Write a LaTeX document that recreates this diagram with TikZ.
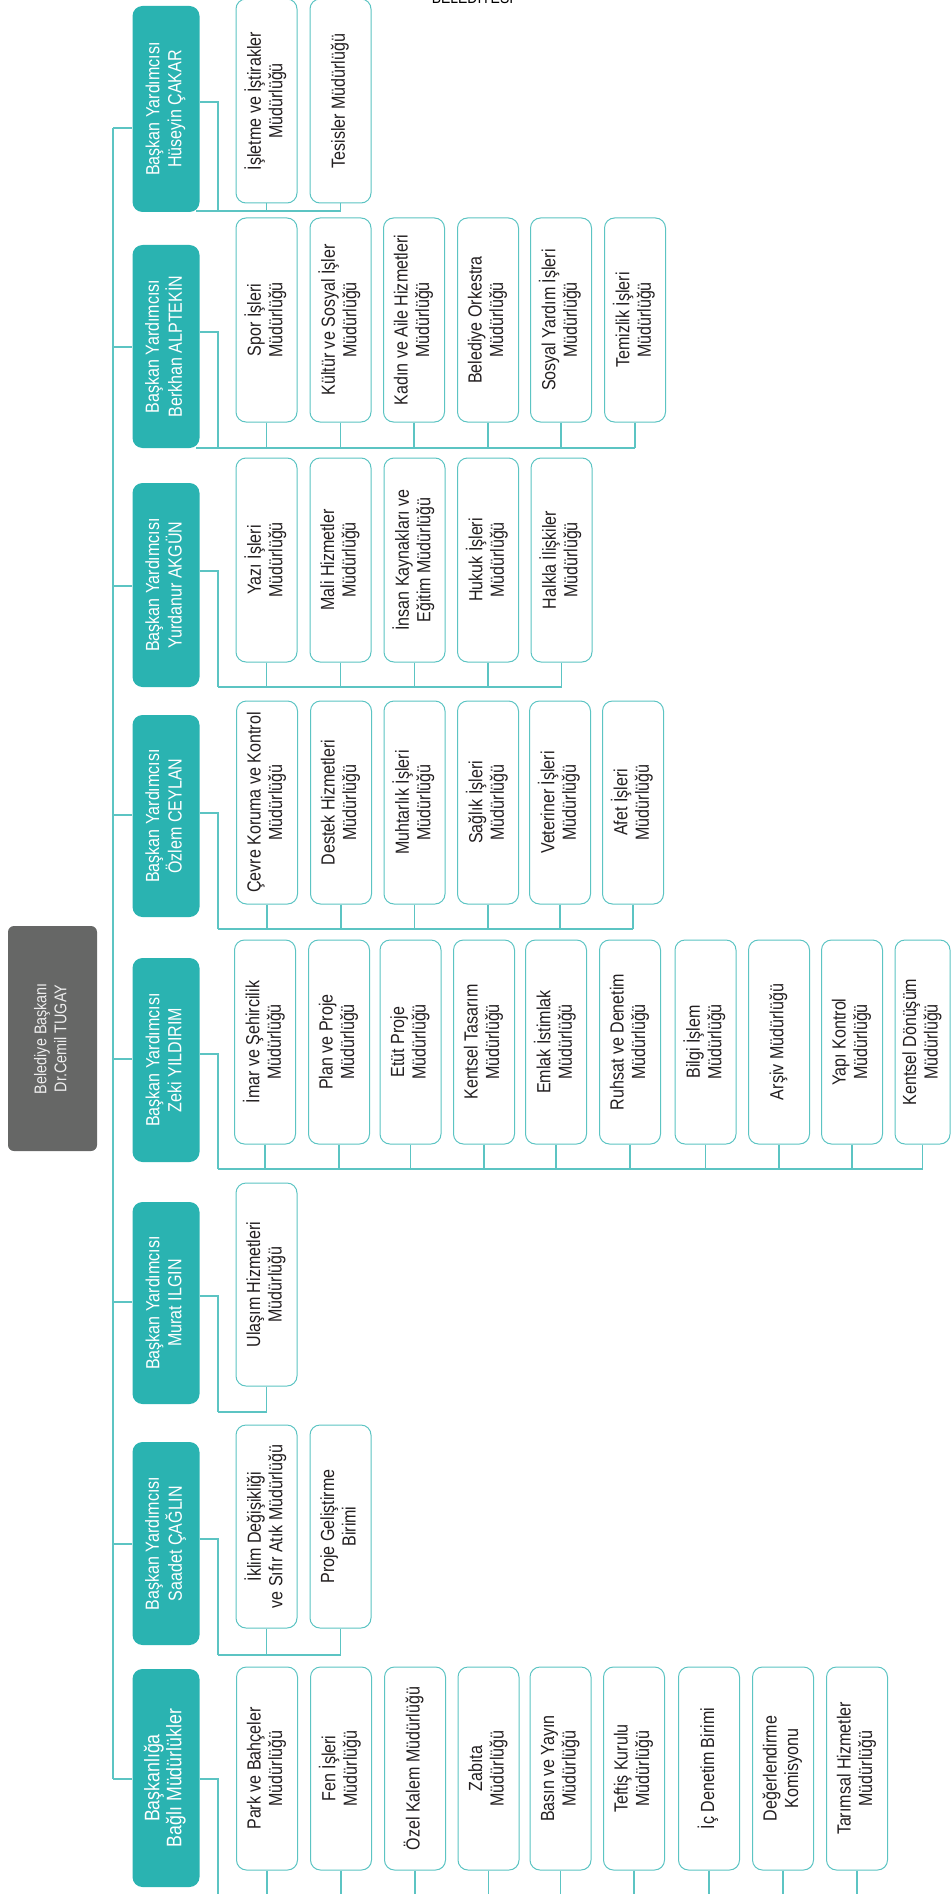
\documentclass[tikz,border=0pt]{standalone}
\usepackage{fontspec}
\setmainfont{Liberation Sans}
\newfontfamily\cond[FakeStretch=0.845]{Liberation Sans}
\usepackage{graphicx}
\definecolor{teal1}{HTML}{2AB3B1}
\definecolor{linec}{HTML}{5CC4C3}
\definecolor{rootgray}{HTML}{666766}
\definecolor{txt}{HTML}{231F20}
\definecolor{roottxt}{HTML}{EEEEEE}
\newcommand\rt[1]{\rotatebox{90}{\begin{tabular}{@{}c@{}}#1\end{tabular}}}
\newcommand\kidfont{\cond\fontsize{19}{21.5}\selectfont}
\newcommand\depfont{\cond\fontsize{19}{22}\selectfont}
\newcommand\bigdepfont{\cond\fontsize{21}{22}\selectfont}
\newcommand\rootfont{\cond\fontsize{17}{20}\selectfont}
\begin{document}
\begin{tikzpicture}[x=1pt,y=-1pt,
  kid/.style={draw=linec, line width=1pt, fill=white, rounded corners=10pt,
    minimum width=61pt, minimum height=204pt, inner sep=0pt, text=txt, font=\kidfont},
  dep/.style={fill=teal1, rounded corners=10pt, minimum width=67pt, inner sep=0pt,
    text=white, font=\depfont},
  rootbox/.style={fill=rootgray, rounded corners=6pt, minimum width=89pt,
    minimum height=225pt, inner sep=0pt, text=roottxt, font=\rootfont},
  conn/.style={draw=linec, line width=1.2pt}]
\useasboundingbox (0,0) rectangle (951,1894);
\clip (0,0) rectangle (951,1894);

% top cut-off title
\node[anchor=base, inner sep=0pt, text=black, font=\cond\fontsize{16.5}{17}\selectfont] (title) at (472.5,3.5) {BELEDİYESİ};

% root
\node[rootbox] (root) at (52.5,1038.5) {\rt{Belediye Başkanı\\Dr.Cemil TUGAY}\hspace{16pt}};

% deputies
\node[dep, minimum height=206pt] (d1) at (166,109) {\rt{Başkan Yardımcısı\\Hüseyin ÇAKAR}};
\node[dep, minimum height=203pt] (d2) at (166,346.5) {\rt{Başkan Yardımcısı\\Berkhan ALPTEKİN}};
\node[dep, minimum height=204pt] (d3) at (166,585) {\rt{Başkan Yardımcısı\\Yurdanur AKGÜN}};
\node[dep, minimum height=202pt] (d4) at (166,816) {\rt{Başkan Yardımcısı\\Özlem CEYLAN}};
\node[dep, minimum height=204pt] (d5) at (166,1060) {\rt{Başkan Yardımcısı\\Zeki YILDIRIM}};
\node[dep, minimum height=202pt] (d6) at (166,1303) {\rt{Başkan Yardımcısı\\Murat ILGIN}};
\node[dep, minimum height=203pt] (d7) at (166,1543.5) {\rt{Başkan Yardımcısı\\Saadet ÇAĞLIN}};
\node[dep, minimum height=218pt, font=\bigdepfont] (d8) at (166,1778) {\rt{Başkanlığa\\Bağlı Müdürlükler}};

% group 1
\node[kid] (c11) at (266.5,101) {\rt{İşletme ve İştirakler\\Müdürlüğü}};
\node[kid] (c12) at (340.5,101) {\rt{Tesisler Müdürlüğü}};
% group 2
\node[kid] (c21) at (266.5,320) {\rt{Spor İşleri\\Müdürlüğü}};
\node[kid] (c22) at (340.5,320) {\rt{Kültür ve Sosyal İşler\\Müdürlüğü}};
\node[kid] (c23) at (414,320) {\rt{Kadın ve Aile Hizmetleri\\Müdürlüğü}};
\node[kid] (c24) at (488,320) {\rt{Belediye Orkestra\\Müdürlüğü}};
\node[kid] (c25) at (561,320) {\rt{Sosyal Yardım İşleri\\Müdürlüğü}};
\node[kid] (c26) at (635,320) {\rt{Temizlik İşleri\\Müdürlüğü}};
% group 3
\node[kid] (c31) at (266.5,560) {\rt{Yazı İşleri\\Müdürlüğü}};
\node[kid] (c32) at (340.5,560) {\rt{Mali Hizmetler\\Müdürlüğü}};
\node[kid] (c33) at (414.5,560) {\rt{İnsan Kaynakları ve\\Eğitim Müdürlüğü}};
\node[kid] (c34) at (488,560) {\rt{Hukuk İşleri\\Müdürlüğü}};
\node[kid] (c35) at (561.5,560) {\rt{Halkla İlişkiler\\Müdürlüğü}};
% group 4
\node[kid, minimum height=203pt] (c41) at (267,802.5) {\rt{Çevre Koruma ve Kontrol\\Müdürlüğü}};
\node[kid, minimum height=203pt] (c42) at (341,802.5) {\rt{Destek Hizmetleri\\Müdürlüğü}};
\node[kid, minimum height=203pt] (c43) at (414.5,802.5) {\rt{Muhtarlık İşleri\\Müdürlüğü}};
\node[kid, minimum height=203pt] (c44) at (488,802.5) {\rt{Sağlık İşleri\\Müdürlüğü}};
\node[kid, minimum height=203pt] (c45) at (560,802.5) {\rt{Veteriner İşleri\\Müdürlüğü}};
\node[kid, minimum height=203pt] (c46) at (633,802.5) {\rt{Afet İşleri\\Müdürlüğü}};
% group 5
\node[kid] (c51) at (265,1042) {\rt{İmar ve Şehircilik\\Müdürlüğü}};
\node[kid] (c52) at (339,1042) {\rt{Plan ve Proje\\Müdürlüğü}};
\node[kid] (c53) at (410.5,1042) {\rt{Etüt Proje\\Müdürlüğü}};
\node[kid] (c54) at (484,1042) {\rt{Kentsel Tasarım\\Müdürlüğü}};
\node[kid] (c55) at (556,1042) {\rt{Emlak İstimlak\\Müdürlüğü}};
\node[kid] (c56) at (630,1042) {\rt{Ruhsat ve Denetim\\Müdürlüğü}};
\node[kid] (c57) at (705.5,1042) {\rt{Bilgi İşlem\\Müdürlüğü}};
\node[kid] (c58) at (779,1042) {\rt{Arşiv Müdürlüğü}};
\node[kid] (c59) at (852,1042) {\rt{Yapı Kontrol\\Müdürlüğü}};
\node[kid, minimum width=55pt] (c50) at (922.5,1042) {\rt{Kentsel Dönüşüm\\Müdürlüğü}};
% group 6
\node[kid, minimum height=203pt] (c61) at (266.5,1284.5) {\rt{Ulaşım Hizmetleri\\Müdürlüğü}};
% group 7
\node[kid, minimum height=203pt] (c71) at (266.5,1526.5) {\rt{İklim Değişikliği\\ve Sıfır Atık Müdürlüğü}};
\node[kid, minimum height=203pt] (c72) at (340.5,1526.5) {\rt{Proje Geliştirme\\Birimi}};
% group 8
\node[kid, minimum height=203pt] (c81) at (267,1768.5) {\rt{Park ve Bahçeler\\Müdürlüğü}};
\node[kid, minimum height=203pt] (c82) at (341,1768.5) {\rt{Fen İşleri\\Müdürlüğü}};
\node[kid, minimum height=203pt] (c83) at (415,1768.5) {\rt{Özel Kalem Müdürlüğü}};
\node[kid, minimum height=203pt] (c84) at (488.5,1768.5) {\rt{Zabıta\\Müdürlüğü}};
\node[kid, minimum height=203pt] (c85) at (560.5,1768.5) {\rt{Basın ve Yayın\\Müdürlüğü}};
\node[kid, minimum height=203pt] (c86) at (634,1768.5) {\rt{Teftiş Kurulu\\Müdürlüğü}};
\node[kid, minimum height=203pt] (c87) at (709,1768.5) {\rt{İç Denetim Birimi}};
\node[kid, minimum height=203pt] (c88) at (783,1768.5) {\rt{Değerlendirme\\Komisyonu}};
\node[kid, minimum height=203pt] (c89) at (857,1768.5) {\rt{Tarımsal Hizmetler\\Müdürlüğü}};

% junction coordinates
\coordinate (s1) at (113,128);   \coordinate (r1) at (218,102);  \coordinate (b1) at (218,211);
\coordinate (s2) at (113,347);   \coordinate (r2) at (218,332);  \coordinate (b2) at (218,448);
\coordinate (s3) at (113,586);   \coordinate (r3) at (218,571);  \coordinate (b3) at (218,687);
\coordinate (s4) at (113,815);   \coordinate (r4) at (218,813);  \coordinate (b4) at (218,929);
\coordinate (s5) at (113,1059);  \coordinate (r5) at (218,1054); \coordinate (b5) at (218,1169);
\coordinate (s6) at (113,1302);  \coordinate (r6) at (218,1296); \coordinate (b6) at (218,1412);
\coordinate (s7) at (113,1544);  \coordinate (r7) at (218,1539); \coordinate (b7) at (218,1655);
\coordinate (s8) at (113,1779);  \coordinate (r8) at (218,1779); \coordinate (b8) at (218,1910);
\coordinate (bs1) at (196,211);
\coordinate (bs2) at (196,448);

% spine
\draw[conn] (s1) -- (s8);
\foreach \k in {1,...,8} {
  \draw[conn] (s\k) -- (d\k.west |- s\k);
  \draw[conn] (d\k.east |- r\k) -- (r\k) -- (b\k);
}
% buses
\draw[conn] (bs1) -- (c12.south |- b1);
\draw[conn] (bs2) -- (c26.south |- b2);
\draw[conn] (b3) -- (c35.south |- b3);
\draw[conn] (b4) -- (c46.south |- b4);
\draw[conn] (b5) -- (c50.south |- b5);
\draw[conn] (b6) -- (c61.south |- b6);
\draw[conn] (b7) -- (c72.south |- b7);
\draw[conn] (b8) -- (c89.south |- b8);
% stubs
\foreach \c in {c11,c12} \draw[conn] (\c.south) -- (\c.south |- b1);
\foreach \c in {c21,c22,c23,c24,c25,c26} \draw[conn] (\c.south) -- (\c.south |- b2);
\foreach \c in {c31,c32,c33,c34,c35} \draw[conn] (\c.south) -- (\c.south |- b3);
\foreach \c in {c41,c42,c43,c44,c45,c46} \draw[conn] (\c.south) -- (\c.south |- b4);
\foreach \c in {c51,c52,c53,c54,c55,c56,c57,c58,c59,c50} \draw[conn] (\c.south) -- (\c.south |- b5);
\foreach \c in {c61} \draw[conn] (\c.south) -- (\c.south |- b6);
\foreach \c in {c71,c72} \draw[conn] (\c.south) -- (\c.south |- b7);
\foreach \c in {c81,c82,c83,c84,c85,c86,c87,c88,c89} \draw[conn] (\c.south) -- (\c.south |- b8);
\end{tikzpicture}
\end{document}
